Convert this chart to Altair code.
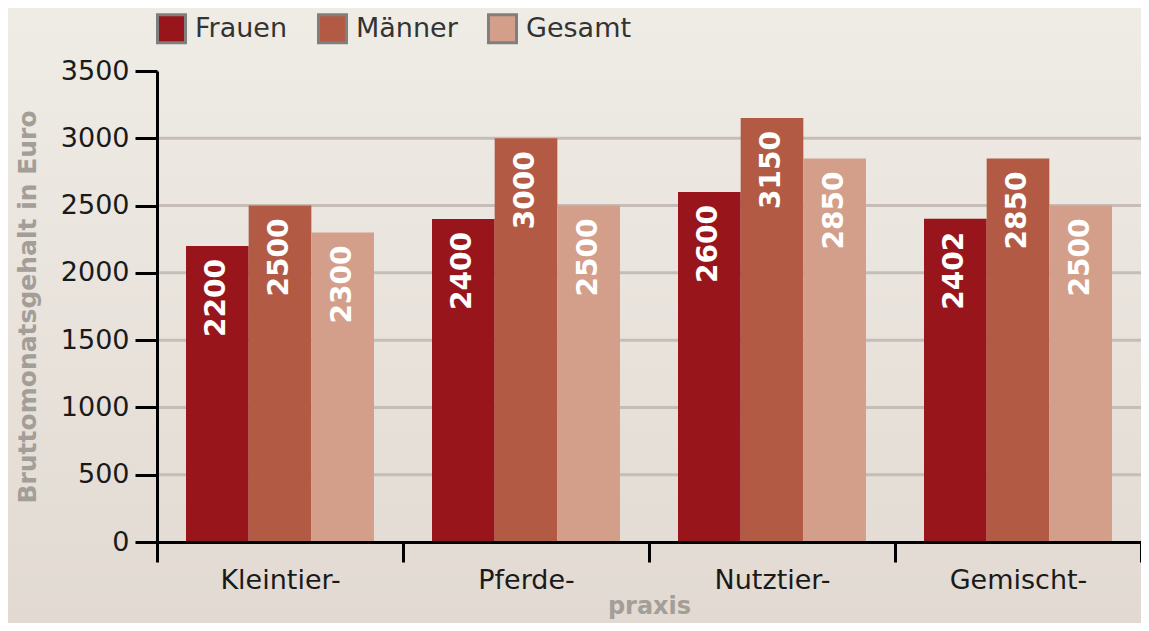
import altair as alt
import pandas as pd

categories = ["Kleintier-", "Pferde-", "Nutztier-", "Gemischt-"]
groups = ["Frauen", "Männer", "Gesamt"]
frauen = [2200, 2400, 2600, 2402]
maenner = [2500, 3000, 3150, 2850]
gesamt = [2300, 2500, 2850, 2500]
y_ticks = [0, 500, 1000, 1500, 2000, 2500, 3000, 3500]
grid_values = [500, 1000, 1500, 2000, 2500, 3000]
colors = ["#98161b", "#b35a45", "#d49f8a"]

rows = []
for i, c in enumerate(categories):
    for g, vals in zip(groups, [frauen, maenner, gesamt]):
        rows.append({"Praxis": c, "Gruppe": g, "Wert": vals[i]})
df = pd.DataFrame(rows)
grid_df = pd.DataFrame({"v": grid_values})
bg_df = pd.DataFrame({"a": [0]})

W, H = 984, 471
PAD = {"left": 149, "top": 63, "right": 0, "bottom": 81}

font = "DejaVu Sans"

bg = alt.Chart(bg_df).mark_rect(
    color=alt.LinearGradient(
        gradient="linear", x1=0, x2=0, y1=0, y2=1,
        stops=[alt.GradientStop(color="#efece6", offset=0),
               alt.GradientStop(color="#e2dad2", offset=1)],
    )
).encode(
    x=alt.value(-PAD["left"]), x2=alt.value(W + PAD["right"]),
    y=alt.value(-PAD["top"]), y2=alt.value(H + PAD["bottom"]),
)

grid = alt.Chart(grid_df).mark_rule(color="#c6beb6", strokeWidth=3).encode(
    y=alt.Y("v:Q", scale=alt.Scale(domain=[0, 3500])),
    x=alt.value(0), x2=alt.value(W),
)

x_enc = alt.X(
    "Praxis:N", sort=categories,
    scale=alt.Scale(paddingInner=0, paddingOuter=0),
    axis=alt.Axis(
        title="praxis", labelAngle=0, tickBand="extent", tickSize=20, tickWidth=3,
        tickColor="black", domainColor="black", domainWidth=3,
        labelFontSize=27, labelFont=font, labelColor="#1a1a1a", labelPadding=5,
        titleFontSize=24, titleFont=font, titleFontWeight="bold", titleColor="#a39e98",
        titlePadding=1, grid=False, zindex=1,
    ),
)
xoff_enc = alt.XOffset("Gruppe:N", sort=groups,
                       scale=alt.Scale(paddingInner=0, paddingOuter=0.463))
y_enc = alt.Y(
    "Wert:Q", scale=alt.Scale(domain=[0, 3500]),
    axis=alt.Axis(
        title="Bruttomonatsgehalt in Euro", values=y_ticks, format="d",
        tickSize=22, tickWidth=3, tickColor="black", domainColor="black", domainWidth=3,
        labelFontSize=27, labelFont=font, labelColor="#1a1a1a", labelPadding=6,
        titleFontSize=25, titleFont=font, titleFontWeight="bold", titleColor="#a39e98",
        titlePadding=20, grid=False, zindex=1,
    ),
)

bars = alt.Chart(df).mark_bar().encode(
    x=x_enc, xOffset=xoff_enc, y=y_enc,
    color=alt.Color(
        "Gruppe:N", sort=groups,
        scale=alt.Scale(domain=groups, range=colors),
        legend=alt.Legend(
            title=None, orient="none", legendX=-1, legendY=-58, direction="horizontal",
            symbolType="square", symbolSize=784, symbolStrokeColor="#7f7f7f",
            symbolStrokeWidth=3, symbolOpacity=1, labelFontSize=27, labelFont=font,
            labelColor="#333333", labelOffset=8, columnPadding=24,
        ),
    ),
)

labels = alt.Chart(df).mark_text(
    angle=270, align="right", baseline="middle", dx=-13,
    color="white", fontSize=28, fontWeight="bold", font=font,
).encode(
    x=alt.X("Praxis:N", sort=categories), xOffset=alt.XOffset("Gruppe:N", sort=groups),
    y=alt.Y("Wert:Q"),
    text=alt.Text("Wert:Q", format="d"),
)

chart = alt.layer(bg, grid, bars, labels).properties(
    width=W, height=H, padding=PAD, autosize=alt.AutoSizeParams(type="none"),
    background="#e9e4dd",
).configure_view(stroke=None).configure(font=font)

chart.save("out.html", embed_options={"renderer": "svg", "actions": False})
